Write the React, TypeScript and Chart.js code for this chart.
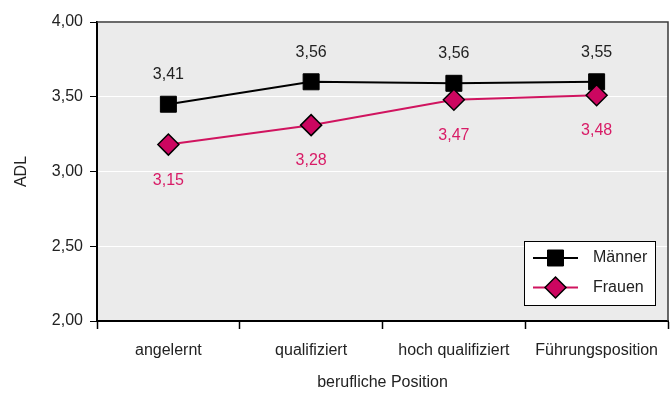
import React, { useEffect, useRef } from 'react';
import { Chart, registerables } from 'chart.js';
Chart.register(...registerables);

const categories = ['angelernt', 'qualifiziert', 'hoch qualifiziert', 'Führungsposition'];
const maennerValues = [3.45, 3.6, 3.59, 3.6];
const frauenValues = [3.18, 3.31, 3.48, 3.51];
const maennerLabels = ['3,41', '3,56', '3,56', '3,55'];
const frauenLabels = ['3,15', '3,28', '3,47', '3,48'];
const yTickValues = [2, 2.5, 3, 3.5, 4];
const yTickLabels = ['2,00', '2,50', '3,00', '3,50', '4,00'];
const seriesNames = ['Männer', 'Frauen'];

const FONT = '"Liberation Sans", Arial, sans-serif';
const PINK_LINE = '#d0145f';
const PINK_FILL = '#cc0660';
const PINK_TEXT = '#d81b66';

const bgPlugin = {
  id: 'bg',
  beforeDraw(chart: any) {
    const { ctx, chartArea: a } = chart;
    ctx.save();
    ctx.fillStyle = '#ebebeb';
    ctx.fillRect(a.left, a.top, a.right - a.left, a.bottom - a.top);
    ctx.restore();
  },
  afterDatasetsDraw(chart: any) {
    const { ctx, chartArea: a } = chart;
    ctx.save();
    ctx.strokeStyle = '#3a3a3a';
    ctx.lineWidth = 1.5;
    ctx.beginPath();
    ctx.moveTo(a.left, a.top);
    ctx.lineTo(a.right, a.top);
    ctx.lineTo(a.right, a.bottom);
    ctx.stroke();
    ctx.restore();
  },
};

const labelPlugin = {
  id: 'pointLabels',
  afterDatasetsDraw(chart: any) {
    const { ctx } = chart;
    ctx.save();
    ctx.font = '16px ' + FONT;
    ctx.textAlign = 'center';
    ctx.textBaseline = 'alphabetic';
    const m0 = chart.getDatasetMeta(0);
    m0.data.forEach((pt: any, i: number) => {
      ctx.fillStyle = '#222';
      ctx.fillText(maennerLabels[i], pt.x, pt.y - 25);
    });
    const m1 = chart.getDatasetMeta(1);
    m1.data.forEach((pt: any, i: number) => {
      ctx.fillStyle = PINK_TEXT;
      ctx.fillText(frauenLabels[i], pt.x, pt.y + 40);
    });
    ctx.restore();
  },
};

const legendPlugin = {
  id: 'customLegend',
  afterDraw(chart: any) {
    const { ctx, chartArea: a } = chart;
    const bx = a.right - 144;
    const by = a.top + 219;
    const bw = 131;
    const bh = 64;
    ctx.save();
    ctx.fillStyle = '#fff';
    ctx.fillRect(bx, by, bw, bh);
    ctx.strokeStyle = '#000';
    ctx.lineWidth = 1;
    ctx.strokeRect(bx + 0.5, by + 0.5, bw, bh);
    const rows = [by + 17, by + 46.5];
    chart.data.datasets.forEach((ds: any, i: number) => {
      const y = rows[i];
      ctx.strokeStyle = ds.borderColor;
      ctx.lineWidth = 2;
      ctx.beginPath();
      ctx.moveTo(bx + 9, y);
      ctx.lineTo(bx + 54, y);
      ctx.stroke();
      const cx = bx + 31.5;
      ctx.fillStyle = ds.pointBackgroundColor;
      ctx.strokeStyle = ds.pointBorderColor;
      ctx.lineWidth = ds.pointBorderWidth;
      ctx.beginPath();
      if (ds.pointStyle === 'rect') {
        const s = ds.pointRadius * Math.SQRT1_2;
        ctx.rect(cx - s, y - s, 2 * s, 2 * s);
      } else {
        const r = ds.pointRadius;
        ctx.moveTo(cx - r, y);
        ctx.lineTo(cx, y - r);
        ctx.lineTo(cx + r, y);
        ctx.lineTo(cx, y + r);
        ctx.closePath();
      }
      ctx.fill();
      ctx.stroke();
      ctx.fillStyle = '#222';
      ctx.font = '16px ' + FONT;
      ctx.textAlign = 'left';
      ctx.textBaseline = 'middle';
      ctx.fillText(ds.label, bx + 69, y);
    });
    ctx.restore();
  },
};

export default function App() {
  const ref = useRef<HTMLCanvasElement | null>(null);
  useEffect(() => {
    if (!ref.current) return;
    const chart = new Chart(ref.current, {
      type: 'line',
      data: {
        labels: categories,
        datasets: [
          {
            label: seriesNames[0],
            data: maennerValues,
            borderColor: '#000',
            borderWidth: 2,
            pointStyle: 'rect',
            pointRadius: 11.3,
            pointHoverRadius: 11.3,
            pointBackgroundColor: '#000',
            pointBorderColor: '#000',
            pointBorderWidth: 1,
            tension: 0,
            order: 1,
          },
          {
            label: seriesNames[1],
            data: frauenValues,
            borderColor: PINK_LINE,
            borderWidth: 2,
            pointStyle: 'rectRot',
            pointRadius: 10.5,
            pointHoverRadius: 10.5,
            pointBackgroundColor: PINK_FILL,
            pointBorderColor: '#000',
            pointBorderWidth: 1.5,
            tension: 0,
            order: 0,
          },
        ] as any,
      },
      options: {
        animation: false,
        responsive: false,
        devicePixelRatio: 1,
        layout: { autoPadding: false, padding: { top: 22, right: 2, left: 0, bottom: 0 } },
        plugins: { legend: { display: false }, tooltip: { enabled: false } },
        scales: {
          x: {
            offset: true,
            grid: { offset: true, drawOnChartArea: false, tickColor: '#000', tickLength: 8, tickWidth: 1.5 },
            border: { color: '#000', width: 2 },
            ticks: { color: '#222', font: { family: FONT, size: 16 }, padding: 12, maxRotation: 0 },
            title: { display: true, text: 'berufliche Position', color: '#222', font: { family: FONT, size: 16 }, padding: { top: 0, bottom: 1.5 } },
            afterFit(scale: any) {
              scale.height = 73;
              scale.paddingLeft = 0;
              scale.paddingRight = 0;
            },
          },
          y: {
            min: 2,
            max: 4,
            afterBuildTicks(scale: any) { scale.ticks = yTickValues.map((v) => ({ value: v })); },
            grid: { color: '#fff', tickColor: '#000', tickLength: 7, lineWidth: 1 },
            border: { color: '#000', width: 2 },
            ticks: {
              color: '#222',
              font: { family: FONT, size: 16 },
              padding: 7,
              callback: (v: any) => yTickLabels[yTickValues.indexOf(Number(v))] ?? '',
            },
            title: { display: true, text: 'ADL', color: '#222', font: { family: FONT, size: 16 }, padding: { top: 12.4, bottom: 0 } },
            afterFit(scale: any) {
              scale.width = 97;
              scale.paddingTop = 0;
              scale.paddingBottom = 0;
            },
          },
        },
      } as any,
      plugins: [bgPlugin, labelPlugin, legendPlugin],
    });
    return () => chart.destroy();
  }, []);
  return (
    <div style={{ position: 'fixed', left: 0, top: 0, width: 670, height: 394, background: '#fff' }}>
      <canvas ref={ref} width={670} height={394} style={{ width: 670, height: 394 }} />
    </div>
  );
}
